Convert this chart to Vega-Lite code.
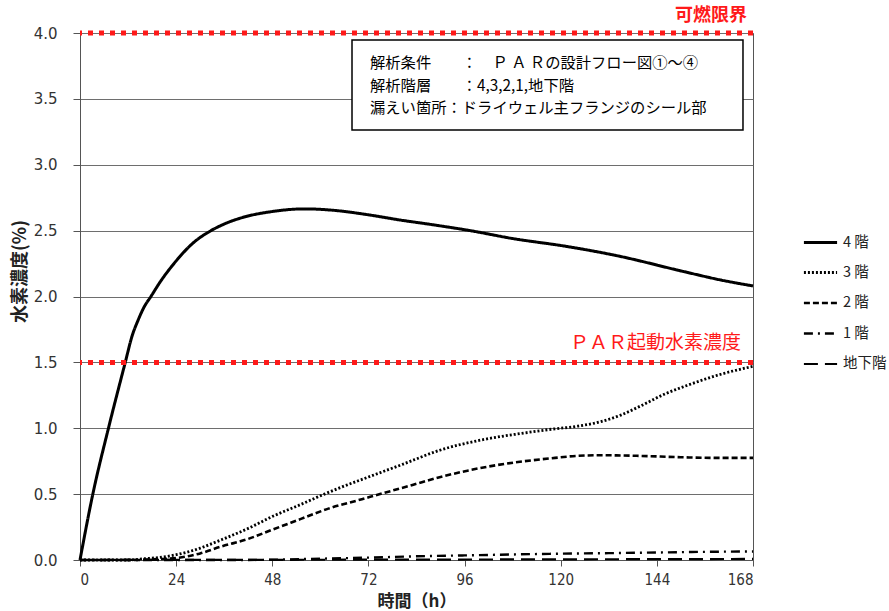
{
  "$schema": "https://vega.github.io/schema/vega-lite/v6.json",
  "width": 673,
  "height": 527,
  "autosize": {"type": "none"},
  "padding": {"left": 80, "top": 33, "right": 136, "bottom": 51},
  "background": "white",
  "config": {
    "view": {"stroke": "#555", "strokeWidth": 1},
    "font": "Noto Sans CJK JP"
  },
  "datasets": {
    "series": [
      {"s": "4階", "t": 0, "v": 0},
      {"s": "4階", "t": 3.2, "v": 0.5},
      {"s": "4階", "t": 7.1, "v": 1.0},
      {"s": "4階", "t": 11.3, "v": 1.5},
      {"s": "4階", "t": 13, "v": 1.7},
      {"s": "4階", "t": 14.5, "v": 1.82},
      {"s": "4階", "t": 16, "v": 1.92},
      {"s": "4階", "t": 17.7, "v": 2.0},
      {"s": "4階", "t": 20, "v": 2.11},
      {"s": "4階", "t": 24, "v": 2.27},
      {"s": "4階", "t": 28, "v": 2.4},
      {"s": "4階", "t": 32.7, "v": 2.5},
      {"s": "4階", "t": 36, "v": 2.55},
      {"s": "4階", "t": 40.6, "v": 2.6},
      {"s": "4階", "t": 48, "v": 2.645},
      {"s": "4階", "t": 56, "v": 2.665},
      {"s": "4階", "t": 63, "v": 2.655},
      {"s": "4階", "t": 72, "v": 2.62},
      {"s": "4階", "t": 80, "v": 2.58},
      {"s": "4階", "t": 88, "v": 2.545},
      {"s": "4階", "t": 97.4, "v": 2.5},
      {"s": "4階", "t": 108, "v": 2.44},
      {"s": "4階", "t": 121.5, "v": 2.38},
      {"s": "4階", "t": 134, "v": 2.31},
      {"s": "4階", "t": 150.6, "v": 2.19},
      {"s": "4階", "t": 160, "v": 2.125},
      {"s": "4階", "t": 168, "v": 2.08},
      {"s": "3階", "t": 0, "v": 0},
      {"s": "3階", "t": 12, "v": 0},
      {"s": "3階", "t": 16, "v": 0.01},
      {"s": "3階", "t": 20, "v": 0.02},
      {"s": "3階", "t": 24, "v": 0.04},
      {"s": "3階", "t": 30, "v": 0.09},
      {"s": "3階", "t": 35, "v": 0.15},
      {"s": "3階", "t": 42, "v": 0.24},
      {"s": "3階", "t": 48, "v": 0.33},
      {"s": "3階", "t": 55, "v": 0.42},
      {"s": "3階", "t": 61, "v": 0.5},
      {"s": "3階", "t": 65, "v": 0.55},
      {"s": "3階", "t": 72, "v": 0.63},
      {"s": "3階", "t": 80, "v": 0.72},
      {"s": "3階", "t": 90, "v": 0.835},
      {"s": "3階", "t": 100, "v": 0.91},
      {"s": "3階", "t": 110, "v": 0.96},
      {"s": "3階", "t": 117, "v": 0.99},
      {"s": "3階", "t": 124, "v": 1.015},
      {"s": "3階", "t": 130, "v": 1.05},
      {"s": "3階", "t": 135, "v": 1.1},
      {"s": "3階", "t": 140, "v": 1.17},
      {"s": "3階", "t": 146, "v": 1.26},
      {"s": "3階", "t": 152, "v": 1.33},
      {"s": "3階", "t": 160, "v": 1.41},
      {"s": "3階", "t": 168, "v": 1.47},
      {"s": "2階", "t": 0, "v": 0},
      {"s": "2階", "t": 14, "v": 0},
      {"s": "2階", "t": 18, "v": 0.005},
      {"s": "2階", "t": 24, "v": 0.015},
      {"s": "2階", "t": 30, "v": 0.05},
      {"s": "2階", "t": 35, "v": 0.1},
      {"s": "2階", "t": 42, "v": 0.16},
      {"s": "2階", "t": 48, "v": 0.23},
      {"s": "2階", "t": 55, "v": 0.31},
      {"s": "2階", "t": 62, "v": 0.39},
      {"s": "2階", "t": 69, "v": 0.45},
      {"s": "2階", "t": 76, "v": 0.51},
      {"s": "2階", "t": 83, "v": 0.57},
      {"s": "2階", "t": 90, "v": 0.63},
      {"s": "2階", "t": 97, "v": 0.68},
      {"s": "2階", "t": 104, "v": 0.72},
      {"s": "2階", "t": 111, "v": 0.75},
      {"s": "2階", "t": 117, "v": 0.77},
      {"s": "2階", "t": 124, "v": 0.79},
      {"s": "2階", "t": 130, "v": 0.795},
      {"s": "2階", "t": 140, "v": 0.79},
      {"s": "2階", "t": 150, "v": 0.78},
      {"s": "2階", "t": 160, "v": 0.775},
      {"s": "2階", "t": 168, "v": 0.775},
      {"s": "1階", "t": 0, "v": 0},
      {"s": "1階", "t": 40, "v": 0},
      {"s": "1階", "t": 60, "v": 0.01},
      {"s": "1階", "t": 72, "v": 0.018},
      {"s": "1階", "t": 84, "v": 0.028},
      {"s": "1階", "t": 96, "v": 0.035},
      {"s": "1階", "t": 108, "v": 0.042},
      {"s": "1階", "t": 120, "v": 0.048},
      {"s": "1階", "t": 132, "v": 0.052},
      {"s": "1階", "t": 144, "v": 0.057},
      {"s": "1階", "t": 156, "v": 0.062},
      {"s": "1階", "t": 168, "v": 0.065},
      {"s": "地下階", "t": 0, "v": 0},
      {"s": "地下階", "t": 84, "v": 0.003},
      {"s": "地下階", "t": 168, "v": 0.008}
    ],
    "limits": [
      {"t": 168, "v": 4.0, "label": "可燃限界"},
      {"t": 168, "v": 1.5, "label": "ＰＡＲ起動水素濃度"}
    ],
    "box": [
      {"t": 67.9, "t2": 165.5, "v": 3.947, "v2": 3.264}
    ],
    "notes": [
      {"t": 72.4, "v": 3.77, "label": "解析条件　　：　Ｐ Ａ Ｒの設計フロー図①～④"},
      {"t": 72.4, "v": 3.598, "label": "解析階層　　：4,3,2,1,地下階"},
      {"t": 72.4, "v": 3.428, "label": "漏えい箇所：ドライウェル主フランジのシール部"}
    ]
  },
  "layer": [
    {
      "data": {"name": "series"},
      "mark": {"type": "line", "color": "black", "interpolate": "monotone", "strokeCap": "butt"},
      "encoding": {
        "x": {
          "field": "t", "type": "quantitative",
          "scale": {"domain": [0, 168], "nice": false, "zero": false},
          "axis": {
            "values": [0, 24, 48, 72, 96, 120, 144, 168],
            "grid": false,
            "title": "時間（h）",
            "titleFont": "Noto Sans CJK JP",
            "titleFontSize": 17,
            "titleFontWeight": "bold",
            "titleColor": "#222",
            "titleBaseline": "middle",
            "titleY": 41,
            "labelFont": "DejaVu Sans Condensed",
            "labelFontSize": 15,
            "labelColor": "#333",
            "labelPadding": 6,
            "tickSize": 6,
            "tickColor": "#555",
            "domainColor": "#555"
          }
        },
        "y": {
          "field": "v", "type": "quantitative",
          "scale": {"domain": [0, 4], "nice": false},
          "axis": {
            "values": [0, 0.5, 1, 1.5, 2, 2.5, 3, 3.5, 4],
            "format": ".1f",
            "grid": true,
            "gridColor": "#6e6e6e",
            "gridWidth": 1,
            "title": "水素濃度(%)",
            "titleFont": "Noto Sans CJK JP",
            "titleFontSize": 18,
            "titleFontWeight": "bold",
            "titleColor": "#222",
            "titleAngle": -90,
            "titleAlign": "center",
            "titleBaseline": "middle",
            "titleX": -60,
            "titleY": 238,
            "labelFont": "DejaVu Sans",
            "labelFontSize": 15,
            "labelColor": "#333",
            "labelPadding": 16,
            "tickSize": 7,
            "tickColor": "#555",
            "domainColor": "#555"
          }
        },
        "detail": {"field": "s"},
        "strokeDash": {
          "field": "s", "type": "nominal",
          "scale": {
            "domain": ["4階", "3階", "2階", "1階", "地下階"],
            "range": [[1, 0], [2, 2], [6, 3], [9, 5, 2, 5], [14, 7]]
          },
          "legend": {
            "title": null,
            "orient": "none",
            "legendX": 722,
            "legendY": 191,
            "symbolType": "stroke",
            "symbolSize": 1100,
            "symbolStrokeColor": "black",
            "symbolStrokeWidth": 3,
            "labelFont": "Noto Sans CJK JP",
            "labelFontSize": 14.5,
            "labelColor": "#222",
            "labelOffset": 4,
            "labelExpr": "datum.label == '地下階' ? datum.label : replace(datum.label, '階', ' 階')",
            "rowPadding": 5.5
          }
        },
        "strokeWidth": {
          "field": "s", "type": "nominal",
          "scale": {
            "domain": ["4階", "3階", "2階", "1階", "地下階"],
            "range": [3, 2.2, 3, 3, 3]
          },
          "legend": null
        }
      }
    },
    {
      "data": {"name": "limits"},
      "mark": {"type": "rule", "color": "#ff1a1a", "strokeWidth": 5, "strokeDash": [5, 6]},
      "encoding": {
        "y": {"field": "v", "type": "quantitative"}
      }
    },
    {
      "data": {"name": "limits"},
      "transform": [{"filter": "datum.v == 4"}],
      "mark": {"type": "text", "color": "#ff1a1a", "align": "right", "baseline": "middle", "dx": -6, "dy": -17, "fontSize": 18, "fontWeight": "bold", "font": "Noto Sans CJK JP"},
      "encoding": {
        "x": {"field": "t", "type": "quantitative"},
        "y": {"field": "v", "type": "quantitative"},
        "text": {"field": "label"}
      }
    },
    {
      "data": {"name": "limits"},
      "transform": [{"filter": "datum.v == 1.5"}],
      "mark": {"type": "text", "color": "#ff1a1a", "align": "right", "baseline": "middle", "dx": -12, "dy": -19, "fontSize": 19, "fontWeight": "normal", "font": "Noto Sans CJK JP"},
      "encoding": {
        "x": {"field": "t", "type": "quantitative"},
        "y": {"field": "v", "type": "quantitative"},
        "text": {"field": "label"}
      }
    },
    {
      "data": {"name": "box"},
      "mark": {"type": "rect", "fill": "white", "stroke": "black", "strokeWidth": 1.5},
      "encoding": {
        "x": {"field": "t", "type": "quantitative"},
        "x2": {"field": "t2"},
        "y": {"field": "v", "type": "quantitative"},
        "y2": {"field": "v2"}
      }
    },
    {
      "data": {"name": "notes"},
      "mark": {"type": "text", "color": "black", "align": "left", "baseline": "middle", "fontSize": 15.3, "font": "Noto Sans CJK JP"},
      "encoding": {
        "x": {"field": "t", "type": "quantitative"},
        "y": {"field": "v", "type": "quantitative"},
        "text": {"field": "label"}
      }
    }
  ]
}
